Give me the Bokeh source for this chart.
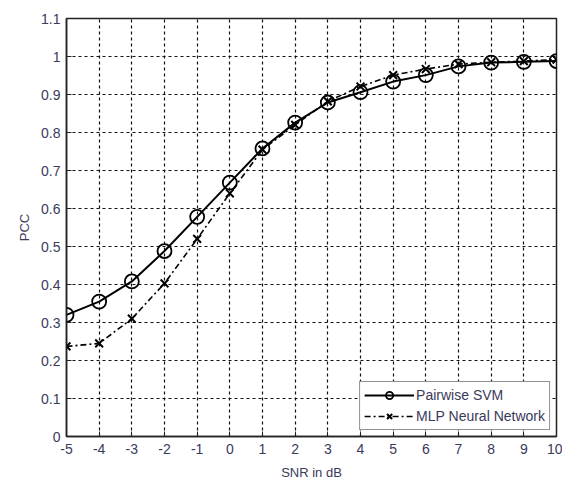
from bokeh.plotting import figure
from bokeh.models import FixedTicker, Legend, LegendItem
from bokeh.embed import file_html
from bokeh.resources import INLINE

snr_db = [-5, -4, -3, -2, -1, 0, 1, 2, 3, 4, 5, 6, 7, 8, 9, 10]
pcc_svm = [0.32, 0.355, 0.408, 0.488, 0.578, 0.668, 0.758, 0.826, 0.879, 0.906, 0.934, 0.951, 0.974, 0.984, 0.986, 0.988]
pcc_mlp = [0.237, 0.245, 0.31, 0.403, 0.52, 0.64, 0.755, 0.82, 0.882, 0.921, 0.951, 0.967, 0.98, 0.985, 0.988, 0.992]
x_ticks = [-5, -4, -3, -2, -1, 0, 1, 2, 3, 4, 5, 6, 7, 8, 9, 10]
x_tick_labels = ["-5", "-4", "-3", "-2", "-1", "0", "1", "2", "3", "4", "5", "6", "7", "8", "9", "10"]
y_ticks = [0, 0.1, 0.2, 0.3, 0.4, 0.5, 0.6, 0.7, 0.8, 0.9, 1.0, 1.1]
y_tick_labels = ["0", "0.1", "0.2", "0.3", "0.4", "0.5", "0.6", "0.7", "0.8", "0.9", "1", "1.1"]

FONT = "Liberation Sans"
TXT = "#3a3a5a"

p = figure(frame_width=490, frame_height=418, x_range=(-5, 10), y_range=(0, 1.1),
           output_backend="svg", toolbar_location=None,
           min_border_left=66, min_border_top=18, min_border_right=6, min_border_bottom=20)
p.background_fill_color = "white"
p.border_fill_color = "white"
p.outline_line_color = "#222222"
p.outline_line_width = 1.5

for ax in (p.xaxis[0], p.yaxis[0]):
    ax.major_label_text_font = FONT
    ax.major_label_text_font_size = "14px"
    ax.major_label_text_color = TXT
    ax.axis_label_text_font = FONT
    ax.axis_label_text_font_size = "13px"
    ax.axis_label_text_font_style = "normal"
    ax.axis_label_text_color = TXT
    ax.axis_line_color = "#222222"
    ax.axis_line_width = 1.5
    ax.major_tick_in = 5
    ax.major_tick_out = 0
    ax.minor_tick_line_color = None
    ax.major_tick_line_color = "#222222"

p.xaxis[0].ticker = FixedTicker(ticks=x_ticks)
p.yaxis[0].ticker = FixedTicker(ticks=y_ticks)
p.xaxis[0].major_label_overrides = {t: l for t, l in zip(x_ticks, x_tick_labels)}
p.yaxis[0].major_label_overrides = {t: l for t, l in zip(y_ticks, y_tick_labels)}
p.xaxis[0].axis_label = "SNR in dB"
p.yaxis[0].axis_label = "PCC"
p.xaxis[0].major_label_standoff = 7
p.xaxis[0].axis_label_standoff = 8
p.yaxis[0].major_label_standoff = 6
p.yaxis[0].axis_label_standoff = 6

for g in (p.xgrid[0], p.ygrid[0]):
    g.grid_line_color = "#111111"
    g.grid_line_dash = "3 3"
    g.grid_line_width = 1.2

l1 = p.line(snr_db, pcc_svm, line_color="black", line_width=2)
m1 = p.scatter(snr_db, pcc_svm, marker="circle", size=14, fill_alpha=0,
               line_color="black", line_width=1.8)
l2 = p.line(snr_db, pcc_mlp, line_color="black", line_width=1.6, line_dash="6 3 2 3")
m2 = p.scatter(snr_db, pcc_mlp, marker="x", size=11, line_color="black", line_width=2)

legend = Legend(items=[LegendItem(label="Pairwise SVM", renderers=[l1, m1]),
                       LegendItem(label="MLP Neural Network", renderers=[l2, m2])],
                location="bottom_right")
legend.label_text_font = FONT
legend.label_text_font_size = "14px"
legend.label_text_color = TXT
legend.border_line_color = "#222222"
legend.border_line_width = 1.2
legend.background_fill_color = "white"
legend.background_fill_alpha = 1
legend.glyph_width = 50
legend.glyph_height = 18
legend.label_height = 18
legend.spacing = 3
legend.padding = 4
legend.margin = 6
legend.label_standoff = 2
p.add_layout(legend, "center")

open("out.html", "w").write(file_html(p, INLINE))
